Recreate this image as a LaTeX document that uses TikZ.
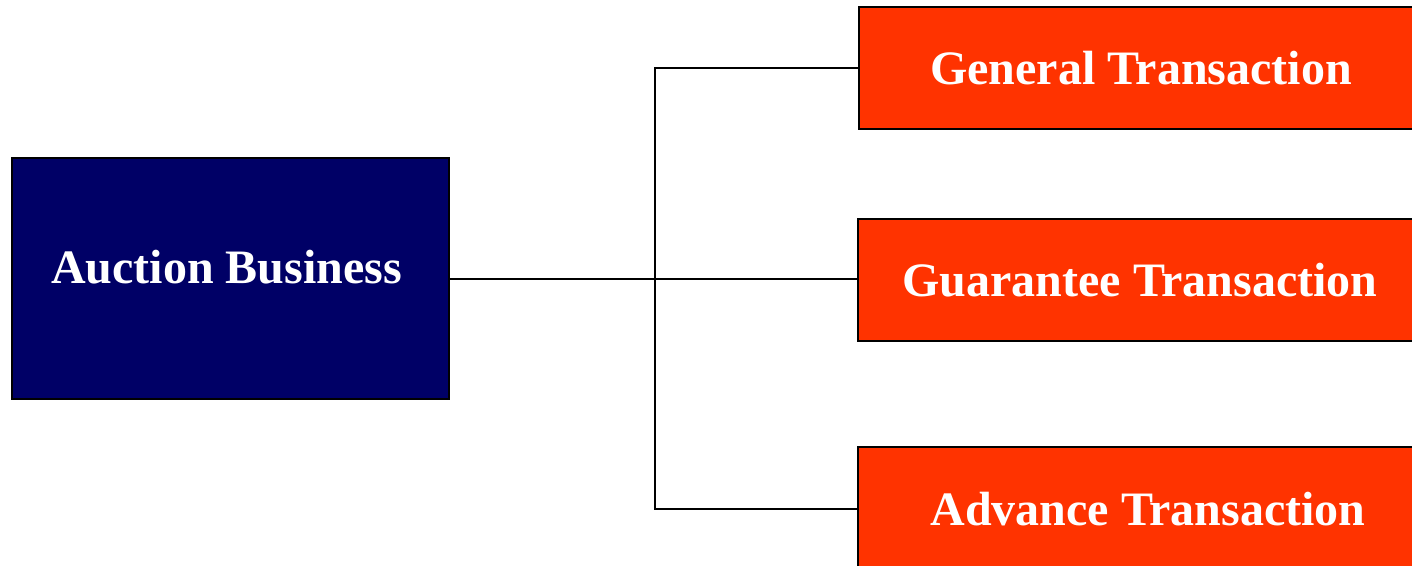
\documentclass[tikz,border=0pt]{standalone}
\usepackage{fontspec}
\setmainfont{Liberation Serif}
\definecolor{navybox}{HTML}{000066}
\definecolor{orangebox}{HTML}{FF3300}
\begin{document}
\begin{tikzpicture}[x=1pt,y=-1pt,
  box/.style={draw=black, line width=2pt, inner sep=0pt, outer sep=0pt, anchor=north west},
  mainbox/.style={box, fill=navybox},
  subbox/.style={box, fill=orangebox, text=white,
    font=\fontsize{48}{58}\selectfont\bfseries},
  boxtext/.style={text=white, inner sep=0pt, font=\fontsize{48}{58}\selectfont\bfseries},
  link/.style={draw=black, line width=2pt}]
\useasboundingbox (0,0) rectangle (1412,565);
\clip (0,0) rectangle (1412,565);
\fill[white] (0,0) rectangle (1412,565);

% root box and its caption
\node[mainbox, minimum width=437pt, minimum height=241pt] (auc) at (12,158) {};
\node[boxtext] (auctext) at ([shift={(-4,-11)}]auc.center) {Auction Business};

% the three transaction types (boxes run past the right edge)
\node[subbox, minimum width=564pt, minimum height=122pt] (gen) at (859,7) {General Transaction};
\node[subbox, minimum width=564pt, minimum height=122pt] (gua) at (858,219) {Guarantee Transaction};
\node[subbox, minimum width=580pt, minimum height=124pt] (adv) at (858,447) {Advance Transaction};

% tree connectors
\coordinate (spine) at (655,279);
\draw[link] (auc.east) -- (auc.east -| gua.west);
\draw[link] (gen.west) -| (spine) |- (adv.west);
\end{tikzpicture}
\end{document}
